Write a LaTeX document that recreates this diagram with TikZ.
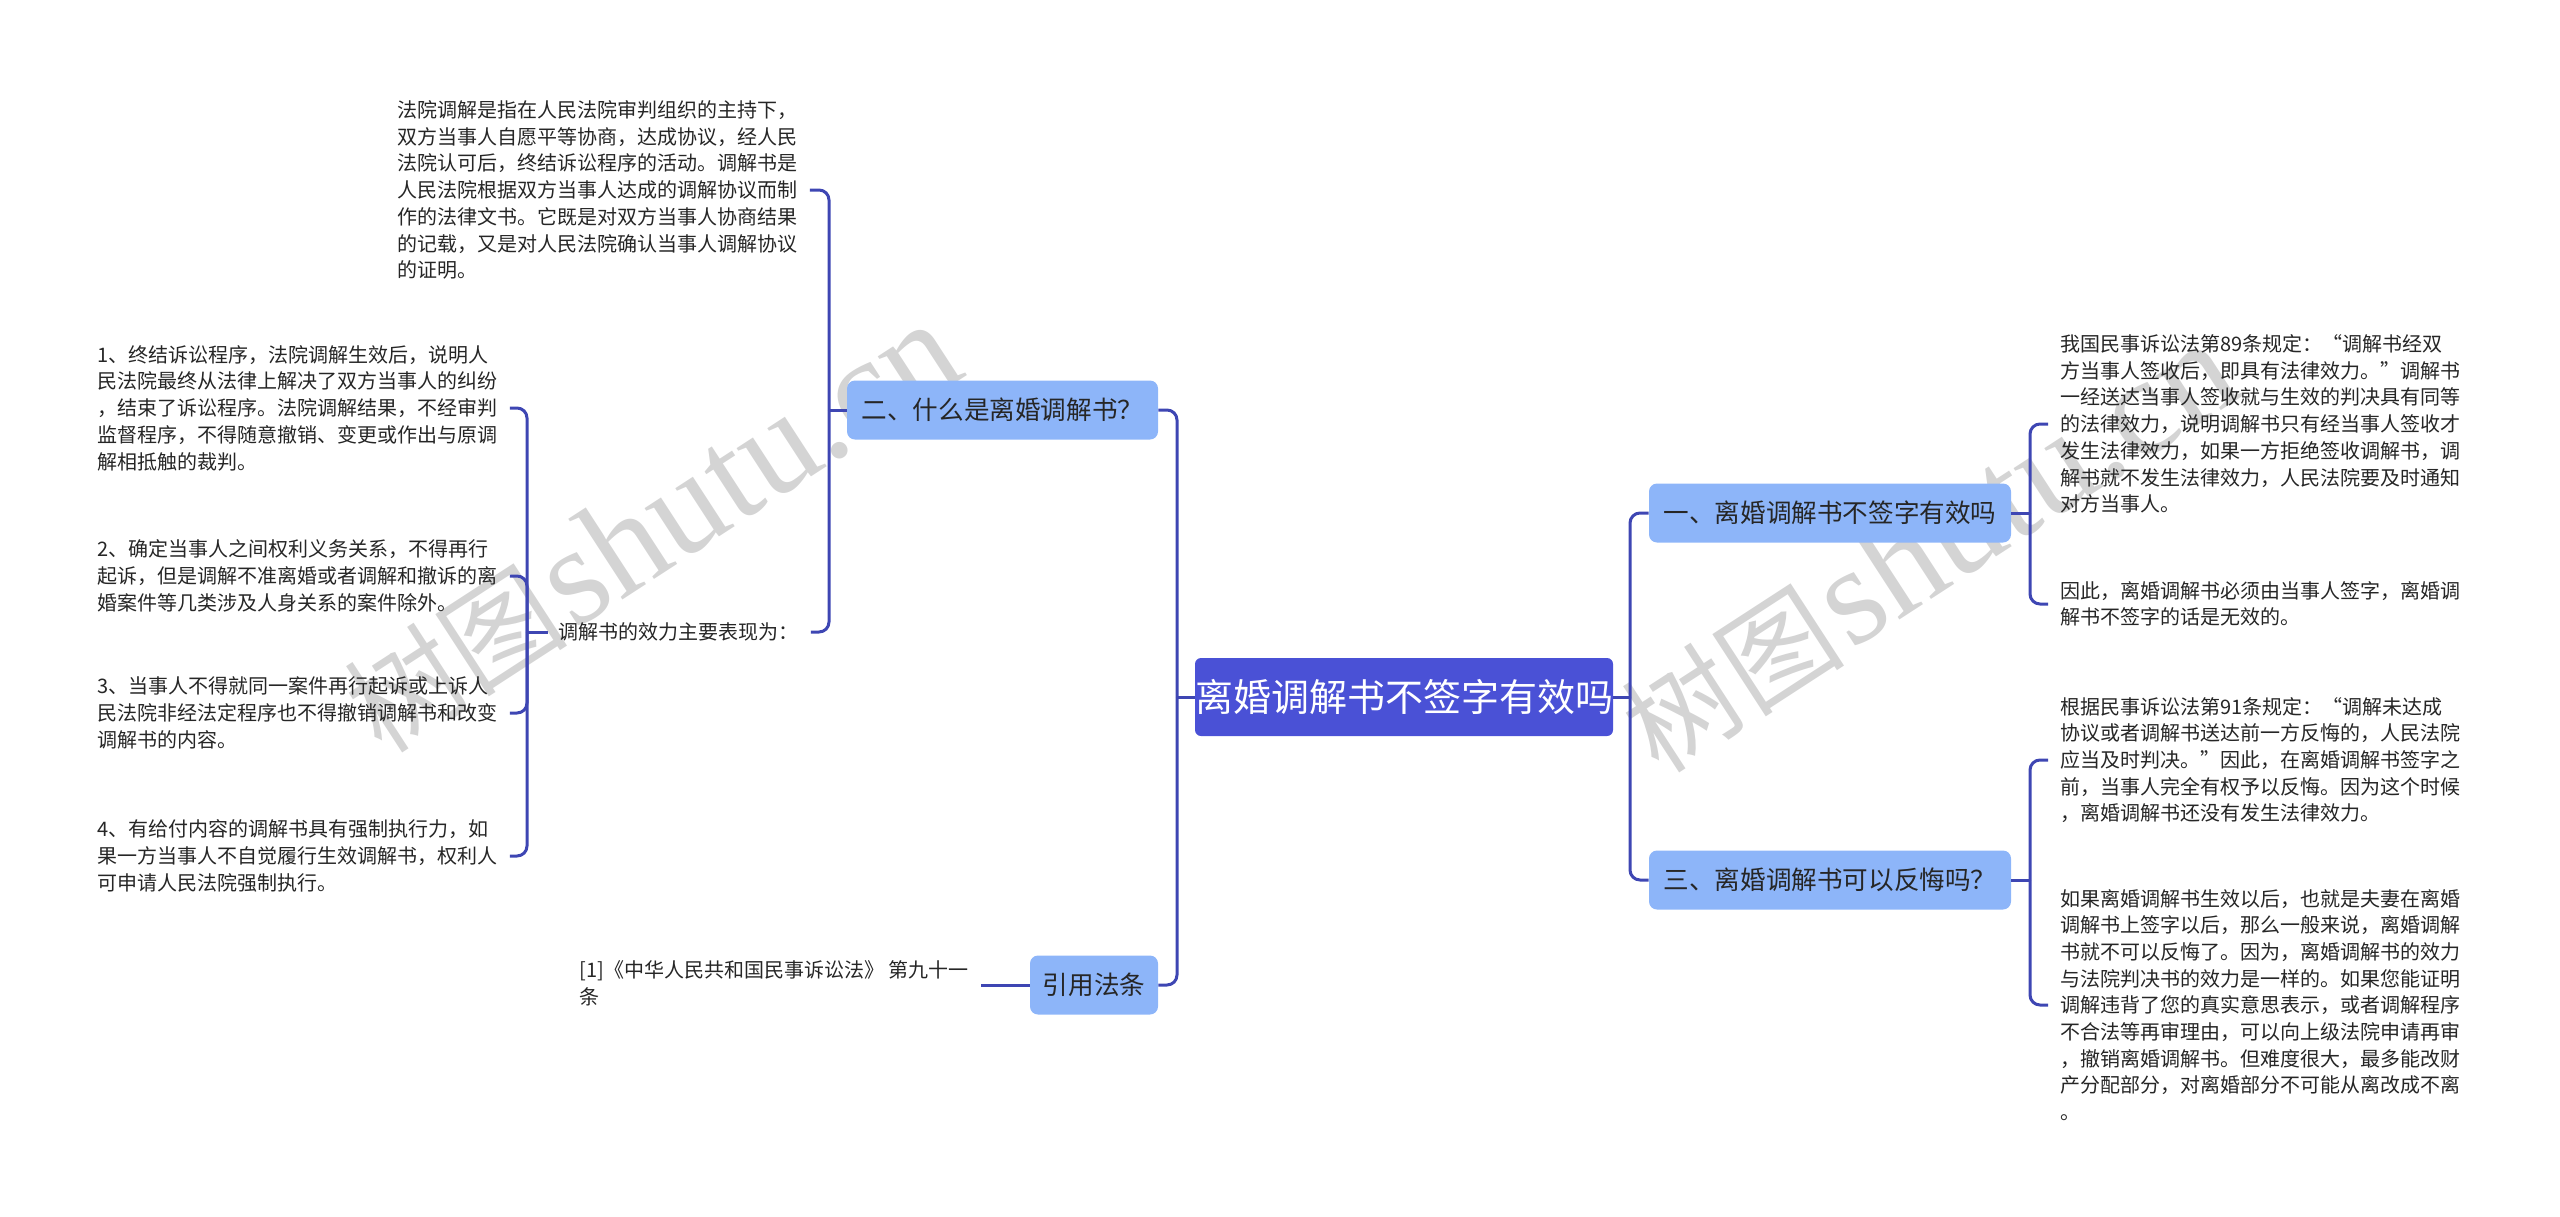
\documentclass[tikz,border=0pt]{standalone}
\usepackage{fontspec}
\setmainfont{Noto Sans CJK SC}
\newfontfamily\wmlatin{Liberation Serif}
\definecolor{rootfill}{HTML}{4A51D6}
\definecolor{subfill}{HTML}{8DB5F9}
\definecolor{linec}{HTML}{3E46B3}
\definecolor{txt}{HTML}{262626}
\definecolor{wmgray}{HTML}{D4D4D4}
\begin{document}
\begin{tikzpicture}[x=0.5pt,y=-0.5pt,
  rootbox/.style={rectangle, fill=rootfill, rounded corners=3pt, text=white,
    minimum width=207pt, minimum height=39pt, inner sep=0pt,
    font=\fontsize{19pt}{22pt}\selectfont},
  subbox/.style={rectangle, fill=subfill, rounded corners=4pt, text=txt,
    minimum height=29.5pt, inner sep=0pt,
    font=\fontsize{12.8pt}{15pt}\selectfont},
  leaf/.style={inner sep=0pt, align=left, text=txt,
    font=\fontsize{10pt}{13.35pt}\selectfont},
  conn/.style={draw=linec, line width=1.5pt, rounded corners=5pt},
  wm/.style={text=wmgray, inner sep=0pt, rotate=33}
]
\useasboundingbox (0,0) rectangle (2560,1216);

% watermarks
\node[wm] (wm1) at (652,528) {{\fontsize{56pt}{56pt}\selectfont 树图} {\wmlatin\fontsize{70pt}{70pt}\selectfont shutu.cn}};
\node[wm] (wm2) at (1929,548) {{\fontsize{56pt}{56pt}\selectfont 树图} {\wmlatin\fontsize{70pt}{70pt}\selectfont shutu.cn}};

% main nodes
\node[rootbox] (root) at (1404,697) {离婚调解书不签字有效吗};
\node[subbox, minimum width=181pt] (b1) at (1830,513) {一、离婚调解书不签字有效吗};
\node[subbox, minimum width=181pt] (b3) at (1830,880) {三、离婚调解书可以反悔吗？};
\node[subbox, minimum width=155.5pt] (b2) at (1002.5,410) {二、什么是离婚调解书？};
\node[subbox, minimum width=64pt] (b4) at (1094,985) {引用法条};

% left texts
\node[leaf, anchor=west] (t0) at (397,190) {法院调解是指在人民法院审判组织的主持下，\\
双方当事人自愿平等协商，达成协议，经人民\\
法院认可后，终结诉讼程序的活动。调解书是\\
人民法院根据双方当事人达成的调解协议而制\\
作的法律文书。它既是对双方当事人协商结果\\
的记载，又是对人民法院确认当事人调解协议\\
的证明。};
\node[leaf, anchor=west] (tmid) at (558,632) {调解书的效力主要表现为：};
\node[leaf, anchor=west] (t1) at (97,408) {1、终结诉讼程序，法院调解生效后，说明人\\
民法院最终从法律上解决了双方当事人的纠纷\\
，结束了诉讼程序。法院调解结果，不经审判\\
监督程序，不得随意撤销、变更或作出与原调\\
解相抵触的裁判。};
\node[leaf, anchor=west] (t2) at (97,576) {2、确定当事人之间权利义务关系，不得再行\\
起诉，但是调解不准离婚或者调解和撤诉的离\\
婚案件等几类涉及人身关系的案件除外。};
\node[leaf, anchor=west] (t3) at (97,713) {3、当事人不得就同一案件再行起诉或上诉人\\
民法院非经法定程序也不得撤销调解书和改变\\
调解书的内容。};
\node[leaf, anchor=west] (t4) at (97,856) {4、有给付内容的调解书具有强制执行力，如\\
果一方当事人不自觉履行生效调解书，权利人\\
可申请人民法院强制执行。};
\node[leaf, anchor=west] (tcite) at (579,983) {[1]《中华人民共和国民事诉讼法》 第九十一\\
条};

% right texts
\node[leaf, anchor=west] (r1) at (2060,424) {我国民事诉讼法第89条规定：“调解书经双\\
方当事人签收后，即具有法律效力。”调解书\\
一经送达当事人签收就与生效的判决具有同等\\
的法律效力，说明调解书只有经当事人签收才\\
发生法律效力，如果一方拒绝签收调解书，调\\
解书就不发生法律效力，人民法院要及时通知\\
对方当事人。};
\node[leaf, anchor=west] (r2) at (2060,604) {因此，离婚调解书必须由当事人签字，离婚调\\
解书不签字的话是无效的。};
\node[leaf, anchor=west] (r3) at (2060,760) {根据民事诉讼法第91条规定：“调解未达成\\
协议或者调解书送达前一方反悔的，人民法院\\
应当及时判决。”因此，在离婚调解书签字之\\
前，当事人完全有权予以反悔。因为这个时候\\
，离婚调解书还没有发生法律效力。};
\node[leaf, anchor=west] (r4) at (2060,1005) {如果离婚调解书生效以后，也就是夫妻在离婚\\
调解书上签字以后，那么一般来说，离婚调解\\
书就不可以反悔了。因为，离婚调解书的效力\\
与法院判决书的效力是一样的。如果您能证明\\
调解违背了您的真实意思表示，或者调解程序\\
不合法等再审理由，可以向上级法院申请再审\\
，撤销离婚调解书。但难度很大，最多能改财\\
产分配部分，对离婚部分不可能从离改成不离\\
。};

% junctions
\coordinate (jr) at (1630,697);
\coordinate (jl) at (1177,697);
\coordinate (j2) at (829,410);
\coordinate (j3) at (527,632);
\coordinate (j4) at (2030,513);
\coordinate (j5) at (2030,880);

% connectors root
\draw[conn] (root.east) -- (jr);
\draw[conn] (jr) |- (b1.west);
\draw[conn] (jr) |- (b3.west);
\draw[conn] (root.west) -- (jl);
\draw[conn] (jl) |- (b2.east);
\draw[conn] (jl) |- (b4.east);

% branch 2
\draw[conn] (b2.west) -- (j2);
\draw[conn] (j2) |- ([xshift=6pt]t0.east);
\draw[conn] (j2) |- ([xshift=6pt]tmid.east);
\draw[conn] ([xshift=-5pt]tmid.west) -- (j3);
\draw[conn] (j3) |- ([xshift=6pt]t1.east);
\draw[conn] (j3) |- ([xshift=6pt]t2.east);
\draw[conn] (j3) |- ([xshift=6pt]t3.east);
\draw[conn] (j3) |- ([xshift=6pt]t4.east);

% citation
\draw[conn] (b4.west) -- ([xshift=6pt]tcite.east |- b4.west);

% branch 1 and 3
\draw[conn] (b1.east) -- (j4);
\draw[conn] (j4) |- ([xshift=-6pt]r1.west);
\draw[conn] (j4) |- ([xshift=-6pt]r2.west);
\draw[conn] (b3.east) -- (j5);
\draw[conn] (j5) |- ([xshift=-6pt]r3.west);
\draw[conn] (j5) |- ([xshift=-6pt]r4.west);
\end{tikzpicture}
\end{document}
